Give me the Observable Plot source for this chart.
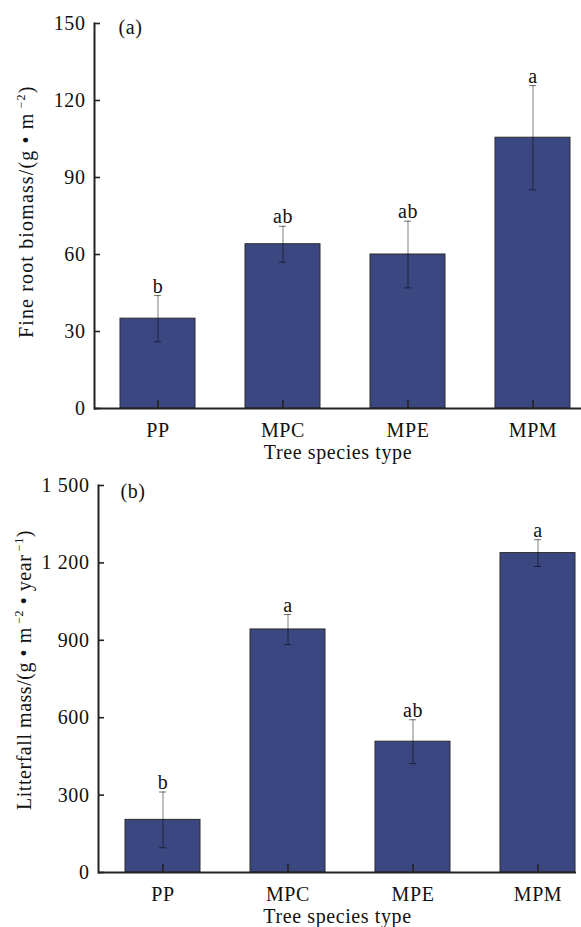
<!DOCTYPE html>
<html><head><meta charset="utf-8">
<script src="https://cdn.jsdelivr.net/npm/d3@7"></script>
<script src="https://cdn.jsdelivr.net/npm/@observablehq/plot@0.6"></script>
<style>
body{margin:0;background:#fff;}
#chart{width:581px;}
#chart svg{display:block;}
</style></head><body><div id="chart"></div>
<script>
const species = ["PP", "MPC", "MPE", "MPM"];
const rootMean = [35, 64, 60, 105.5];
const rootErr = [9, 7, 13, 20.3];
const rootLetters = ["b", "ab", "ab", "a"];
const rootTicks = [0, 30, 60, 90, 120, 150];
const rootTickLabels = ["0", "30", "60", "90", "120", "150"];

const litterMean = [204, 942, 507, 1238];
const litterErr = [108, 58, 85, 52];
const litterLetters = ["b", "a", "ab", "a"];
const litterTicks = [0, 300, 600, 900, 1200, 1500];
const litterTickLabels = ["0", "300", "600", "900", "1 200", "1 500"];

const xTitle = "Tree species type";

const FONT = "'Liberation Serif', 'Times New Roman', serif";
const BAR = "#3b4780";
const INK = "#111";

function makeChart(o) {
  const rows = species.map((s, i) => ({s, m: o.means[i], lo: o.means[i] - o.errs[i], hi: o.means[i] + o.errs[i], letter: o.letters[i]}));
  const fmt = d => o.tickLabels[o.ticks.indexOf(d)];
  const plot = Plot.plot({
    width: 581, height: o.height,
    marginTop: o.marginTop, marginBottom: o.marginBottom, marginLeft: o.marginLeft, marginRight: o.marginRight,
    style: {fontFamily: FONT, fontSize: "20px", color: INK, background: "#fff", overflow: "visible", letterSpacing: "0.6px"},
    x: {type: "band", domain: species, range: o.xRange, paddingInner: 0.4, paddingOuter: 0.2},
    y: {domain: [0, o.ticks[o.ticks.length - 1]]},
    marks: [
      Plot.barY(rows, {x: "s", y: "m", fill: BAR, stroke: "#2a2a2a", strokeWidth: 1}),
      Plot.ruleX(rows, {x: "s", y1: "lo", y2: "hi", stroke: "#000", strokeOpacity: 0.5, strokeWidth: 1}),
      Plot.tickY(rows, {x: "s", y: "lo", insetLeft: 34, insetRight: 34, stroke: "#000", strokeOpacity: 0.55, strokeWidth: 1}),
      Plot.tickY(rows, {x: "s", y: "hi", insetLeft: 34, insetRight: 34, stroke: "#000", strokeOpacity: 0.55, strokeWidth: 1}),
      Plot.text(rows, {x: "s", y: "hi", text: "letter", dy: -3, lineAnchor: "bottom", fontSize: 20, fill: INK}),
      Plot.ruleY([0], {stroke: "#222", strokeWidth: 2}),
      Plot.frame({anchor: "left", stroke: "#222", strokeWidth: 2}),
      Plot.axisY({ticks: o.ticks, tickSize: -6, tickFormat: () => "", label: null, stroke: "#222", strokeWidth: 1.6}),
      Plot.axisY({ticks: o.ticks, tickSize: 0, tickPadding: 9, tickFormat: fmt, label: null, fontSize: 20, fill: INK}),
      Plot.axisX({tickSize: -8, tickFormat: () => "", label: null, stroke: "#222", strokeWidth: 1.6}),
      Plot.axisX({tickSize: 0, tickPadding: 14, label: null, fontSize: 20, fill: INK}),
      Plot.text([xTitle], {frameAnchor: "bottom", dy: 36, lineAnchor: "top", fontSize: 20, fill: INK}),
      Plot.text([o.panel], {frameAnchor: "top-left", dx: o.panelDx, dy: o.panelDy, textAnchor: "start", lineAnchor: "middle", fontSize: 20, fill: INK})
    ]
  });
  const svg = d3.select(plot);
  const t = svg.append("text")
    .attr("transform", `translate(${o.ylabelX},${o.ylabelStart}) rotate(-90)`)
    .attr("text-anchor", "start")
    .attr("fill", INK)
    .attr("textLength", o.ylabelLength)
    .attr("lengthAdjust", "spacing")
    .style("font-family", FONT)
    .style("font-size", "20px");
  o.ylabelParts.forEach(([str, sup], i) => {
    const prevSup = i > 0 && o.ylabelParts[i - 1][1];
    const ts = t.append("tspan").text(str);
    if (sup) ts.attr("dy", -8).style("font-size", "12px");
    else if (prevSup) ts.attr("dy", 8);
  });
  return plot;
}

const root = makeChart({
  means: rootMean, errs: rootErr, letters: rootLetters, ticks: rootTicks, tickLabels: rootTickLabels,
  height: 465, marginTop: 23, marginBottom: 57, marginLeft: 94, marginRight: 0, xRange: [94, 596],
  panel: "(a)", panelDx: 24, panelDy: 4, ylabelX: 33, ylabelStart: 338, ylabelLength: 252,
  ylabelParts: [["Fine root biomass/(g • m", 0], [" −2", 1], [")", 0]]
});
const litter = makeChart({
  means: litterMean, errs: litterErr, letters: litterLetters, ticks: litterTicks, tickLabels: litterTickLabels,
  height: 462, marginTop: 20, marginBottom: 55, marginLeft: 98, marginRight: 5, xRange: [98, 601],
  panel: "(b)", panelDx: 22, panelDy: 6, ylabelX: 31, ylabelStart: 345, ylabelLength: 280,
  ylabelParts: [["Litterfall mass/(g • m", 0], [" −2", 1], [" • year", 0], [" −1", 1], [")", 0]]
});
document.getElementById("chart").append(root, litter);
</script></body></html>
